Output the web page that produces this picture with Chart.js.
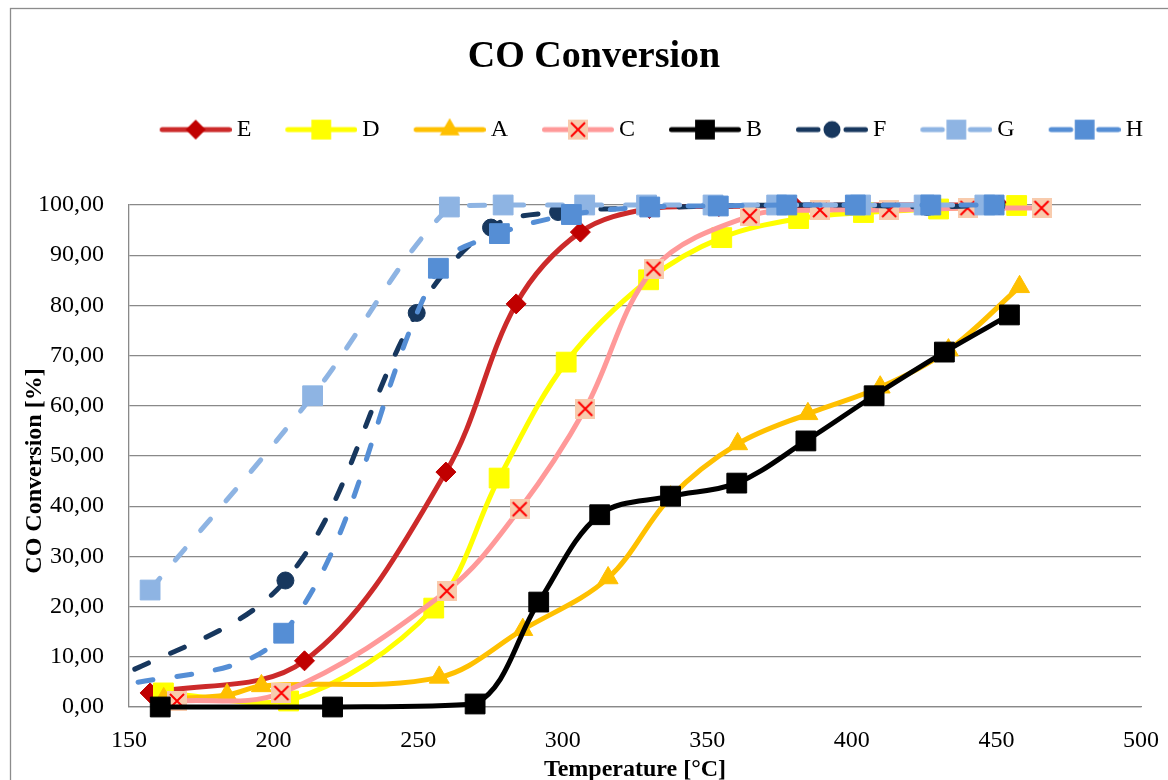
<!DOCTYPE html>
<html>
<head>
<meta charset="utf-8">
<title>CO Conversion</title>
<script src="https://cdn.jsdelivr.net/npm/chart.js@4.4.1/dist/chart.umd.min.js"></script>
<style>
    html, body { margin: 0; padding: 0; background: #ffffff; }
    #wrap { width: 1168px; height: 780px; overflow: hidden; }
</style>
</head>
<body>
<div id="wrap"><canvas id="chartviewport" width="1168" height="780"></canvas></div>
<script>
// CO conversion [%] against temperature [°C]
const eTemp = [ 157.3, 210.7, 259.6, 283.9, 306.1, 330.0, 354.0, 380.0, 403.0, 427.0, 451.0 ];
const eConv = [ 2.8, 9.2, 46.8, 80.3, 94.6, 99.3, 99.7, 99.9, 100, 100, 100 ];

const dTemp = [ 161.9, 205.2, 255.4, 278.0, 301.2, 329.7, 355.0, 381.6, 404.0, 430.0, 457.0 ];
const dConv = [ 2.8, 1.2, 19.7, 45.6, 68.7, 85.1, 93.5, 97.3, 98.5, 99.2, 99.9 ];

const aTemp = [ 162.0, 183.9, 195.8, 257.3, 286.2, 315.7, 337.3, 360.5, 384.8, 409.8, 433.4, 458.0 ];
const aConv = [ 1.6, 2.4, 4.2, 5.9, 15.4, 25.7, 41.8, 52.4, 58.4, 63.7, 71.1, 83.7 ];

const cTemp = [ 166.6, 202.7, 259.9, 285.1, 307.8, 331.4, 364.7, 389.0, 412.9, 440.0, 465.6 ];
const cConv = [ 1.2, 2.8, 23.1, 39.4, 59.4, 87.3, 97.8, 99.0, 99.0, 99.4, 99.4 ];

const bTemp = [ 160.8, 220.4, 269.7, 291.7, 312.8, 337.3, 360.2, 384.1, 407.7, 432.0, 454.5 ];
const bConv = [ 0, 0, 0.6, 20.9, 38.3, 42.0, 44.6, 53.0, 62.0, 70.7, 78.1 ];

const fTemp = [ 140.0, 204.1, 249.5, 275.2, 298.4, 329.9, 354.0, 378.0, 402.0, 426.1, 450.0 ];
const fConv = [ 4.0, 25.2, 78.5, 95.5, 98.6, 99.4, 99.8, 100, 100, 99.6, 100 ];

const gTemp = [ 157.3, 213.5, 260.8, 279.4, 307.6, 329.0, 352.0, 374.0, 403.0, 425.0, 446.0 ];
const gConv = [ 23.3, 62.0, 99.6, 100, 100, 100, 100, 100, 100, 100, 100 ];

const hTemp = [ 140.0, 203.5, 257.0, 278.1, 303.0, 330.1, 353.8, 377.5, 401.2, 427.3, 449.2 ];
const hConv = [ 3.2, 14.7, 87.4, 94.3, 98.1, 99.6, 99.8, 100, 100, 100, 100 ];

const seriesNames = [ 'E', 'D', 'A', 'C', 'B', 'F', 'G', 'H' ];
const seriesTemps = [ eTemp, dTemp, aTemp, cTemp, bTemp, fTemp, gTemp, hTemp ];
const seriesConvs = [ eConv, dConv, aConv, cConv, bConv, fConv, gConv, hConv ];

const xTicks = { min: 150, max: 500, step: 50 };
const yTicks = { min: 0, max: 100, step: 10 };

// styles, same order as seriesNames
const DASH = [ 15, 24 ];
const styles = [
    { line: '#CC2A2A', fill: '#C00000', marker: 'rectRot',  size: 10,   dash: [] },
    { line: '#FFFF00', fill: '#FFFF00', marker: 'rect',     size: 14,   dash: [] },
    { line: '#FFC000', fill: '#FFC000', marker: 'triangle', size: 11.5, dash: [] },
    { line: '#FF9999', fill: '#F8CBAD', marker: 'crossBox', size: 10,   dash: [] },
    { line: '#000000', fill: '#000000', marker: 'rect',     size: 14,   dash: [] },
    { line: '#17375E', fill: '#17375E', marker: 'circle',   size: 8.5,  dash: DASH },
    { line: '#8EB4E3', fill: '#8EB4E3', marker: 'rect',     size: 14,   dash: DASH },
    { line: '#558ED5', fill: '#558ED5', marker: 'rect',     size: 14,   dash: DASH }
];

const FONT = "'Liberation Serif', 'Times New Roman', serif";
const GRID = '#898989';

// peach square with a red cross (series C marker)
function crossBox(size) {
    const c = document.createElement('canvas');
    c.width = size; c.height = size;
    const g = c.getContext('2d');
    g.fillStyle = '#F8CBAD';
    g.fillRect(0, 0, size, size);
    g.strokeStyle = '#FF0000';
    g.lineWidth = 2;
    g.beginPath();
    g.moveTo(3, 3); g.lineTo(size - 3, size - 3);
    g.moveTo(size - 3, 3); g.lineTo(3, size - 3);
    g.stroke();
    return c;
}
const crossImg = crossBox(20);

function drawMarker(g, st, x, y) {
    const r = st.size;
    g.fillStyle = st.fill;
    g.beginPath();
    if (st.marker === 'rectRot') {
        g.moveTo(x, y - r); g.lineTo(x + r, y); g.lineTo(x, y + r); g.lineTo(x - r, y);
    } else if (st.marker === 'rect') {
        const h = r * Math.SQRT1_2;
        g.rect(x - h, y - h, 2 * h, 2 * h);
    } else if (st.marker === 'triangle') {
        g.moveTo(x, y - r);
        g.lineTo(x + r * Math.sin(2 * Math.PI / 3), y - r * Math.cos(2 * Math.PI / 3));
        g.lineTo(x + r * Math.sin(4 * Math.PI / 3), y - r * Math.cos(4 * Math.PI / 3));
    } else if (st.marker === 'circle') {
        g.arc(x, y, r, 0, Math.PI * 2);
    } else {
        g.drawImage(crossImg, x - crossImg.width / 2, y - crossImg.height / 2);
        return;
    }
    g.closePath();
    g.fill();
}

// legend symbol: line with marker, like the spreadsheet legend
function legendIcon(st) {
    const c = document.createElement('canvas');
    c.width = 88; c.height = 24;
    const g = c.getContext('2d');
    g.strokeStyle = st.line;
    g.lineWidth = 5;
    g.lineCap = 'round';
    g.beginPath();
    if (st.dash.length) {
        g.moveTo(18.5, 12); g.lineTo(38, 12);
        g.moveTo(66, 12); g.lineTo(85.5, 12);
    } else {
        g.moveTo(18.5, 12); g.lineTo(85.5, 12);
    }
    g.stroke();
    drawMarker(g, st, 52, 12);
    return c;
}
const icons = styles.map(legendIcon);

// keeps the gap between legend and plot area
const legendGap = {
    id: 'legendGap',
    beforeInit(chart) {
        Chart.layouts.addBox(chart, {
            position: 'top', weight: -1, fullSize: true, options: {},
            left: 0, top: 0, right: 0, bottom: 0, width: 0, height: 0,
            update(maxWidth) { this.width = maxWidth; this.height = 53.4; },
            isHorizontal() { return true; },
            draw() {}
        });
    }
};

// white page and the chart's outer frame
const frame = {
    id: 'frame',
    beforeDraw(chart) {
        const ctx = chart.ctx;
        ctx.save();
        ctx.fillStyle = '#ffffff';
        ctx.fillRect(0, 0, chart.width, chart.height);
        ctx.strokeStyle = '#8C8C8C';
        ctx.lineWidth = 1.3;
        ctx.strokeRect(10.5, 8.5, 1400, 1000);
        ctx.restore();
    }
};

const datasets = seriesNames.map((name, i) => {
    const st = styles[i];
    return {
        label: name,
        data: seriesTemps[i].map((t, k) => ({ x: t, y: seriesConvs[i][k] })),
        borderColor: st.line,
        backgroundColor: st.fill,
        borderWidth: 5,
        borderDash: st.dash,
        borderCapStyle: 'round',
        borderJoinStyle: 'round',
        tension: 0.35,
        pointStyle: st.marker === 'crossBox' ? crossImg : st.marker,
        pointRadius: st.size,
        pointBackgroundColor: st.fill,
        pointBorderColor: st.fill,
        pointBorderWidth: 1,
        order: seriesNames.length - i,
        clip: { left: 0, top: 20, right: 20, bottom: 20 }
    };
});

Chart.defaults.font.family = FONT;
Chart.defaults.color = '#000000';

new Chart(document.getElementById('chartviewport'), {
    type: 'line',
    data: { datasets: datasets },
    options: {
        responsive: false,
        animation: false,
        devicePixelRatio: 1,
        events: [],
        layout: { padding: { top: 10, left: 20, right: 0, bottom: 0 } },
        plugins: {
            tooltip: { enabled: false },
            title: {
                display: true,
                text: 'CO Conversion',
                color: '#000000',
                font: { family: FONT, size: 38, weight: 'bold' },
                padding: { top: 24, bottom: 13 }
            },
            legend: {
                position: 'top',
                align: 'end',
                labels: {
                    usePointStyle: true,
                    pointStyleWidth: 74,
                    boxHeight: 24,
                    padding: 25,
                    color: '#000000',
                    font: { family: FONT, size: 24 },
                    generateLabels(chart) {
                        return chart.data.datasets.map((ds, i) => ({
                            text: ds.label,
                            pointStyle: icons[i],
                            fillStyle: styles[i].fill,
                            strokeStyle: styles[i].line,
                            lineWidth: 0,
                            hidden: false,
                            datasetIndex: i
                        }));
                    }
                }
            }
        },
        scales: {
            x: {
                type: 'linear',
                min: xTicks.min,
                max: xTicks.max,
                afterFit(scale) { scale.height = 73; scale.paddingRight = 27; },
                grid: { display: false, drawTicks: false },
                border: { display: true, color: GRID, width: 1.3 },
                ticks: {
                    stepSize: xTicks.step,
                    padding: 19,
                    color: '#000000',
                    font: { family: FONT, size: 24 },
                    callback: (v) => String(v)
                },
                title: {
                    display: true,
                    text: 'Temperature [°C]',
                    color: '#000000',
                    font: { family: FONT, size: 24, weight: 'bold' },
                    padding: { top: 0, bottom: -4 }
                }
            },
            y: {
                min: yTicks.min,
                max: yTicks.max,
                afterFit(scale) { scale.width = 109; },
                grid: { color: GRID, lineWidth: 1.3, drawTicks: false },
                border: { display: true, color: GRID, width: 1.3 },
                ticks: {
                    stepSize: yTicks.step,
                    padding: 25,
                    color: '#000000',
                    font: { family: FONT, size: 24 },
                    callback: (v) => v.toFixed(2).replace('.', ',')
                },
                title: {
                    display: true,
                    text: 'CO Conversion [%]     ',
                    color: '#000000',
                    font: { family: FONT, size: 24, weight: 'bold' },
                    padding: { top: 0, bottom: 0 }
                }
            }
        }
    },
    plugins: [ legendGap, frame ]
});
</script>
</body>
</html>
